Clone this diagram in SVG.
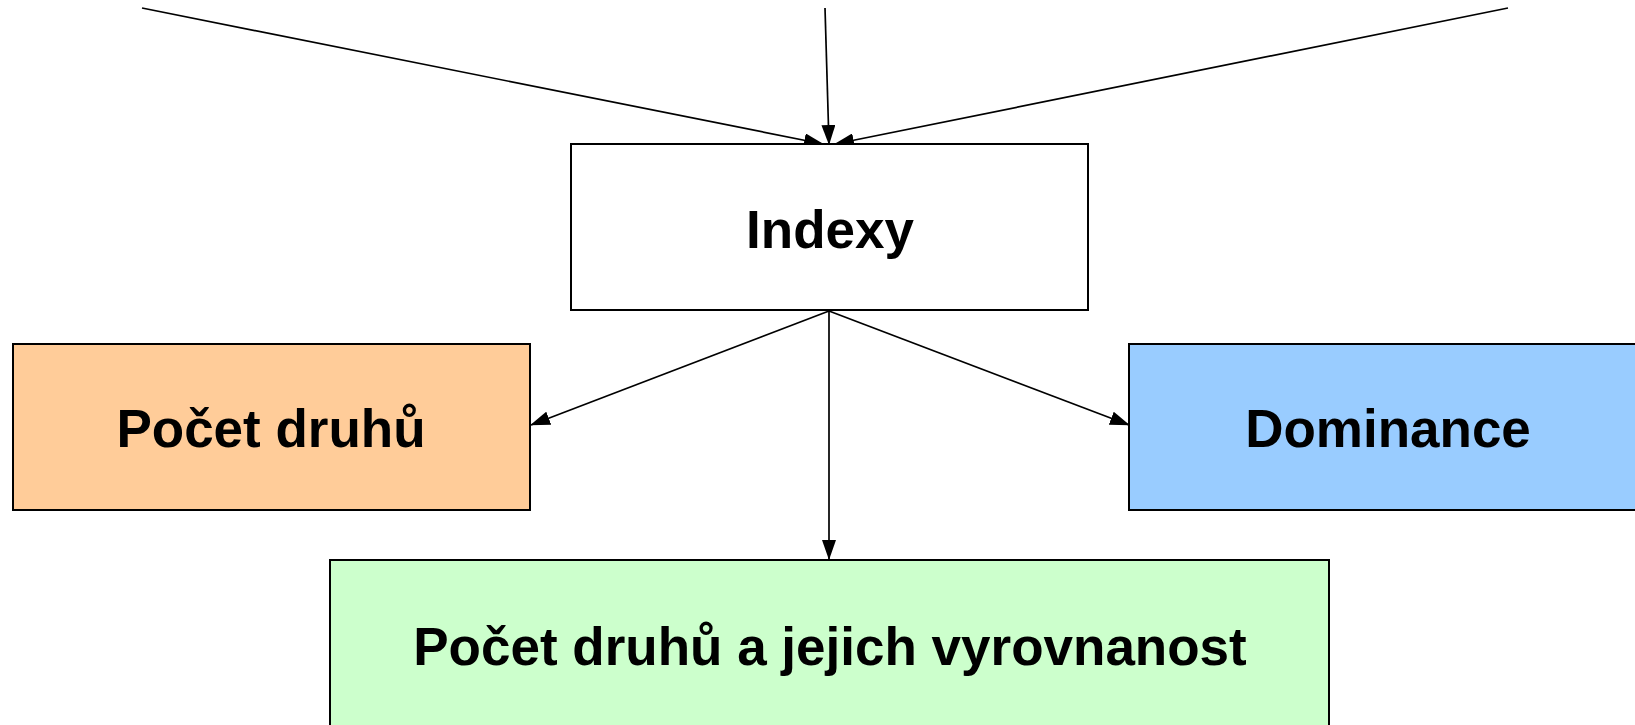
<svg xmlns="http://www.w3.org/2000/svg" width="1635" height="725" viewBox="0 0 1635 725">
<defs>
<marker id="ah" markerUnits="userSpaceOnUse" markerWidth="20" markerHeight="14" refX="19" refY="7" orient="auto">
<path d="M0,0 L20,7 L0,14 z" fill="#000"/>
</marker>
<style>
.box{stroke:#000;stroke-width:2}
.lbl{font-family:"Liberation Sans",Arial,sans-serif;font-weight:bold;font-size:53px;text-anchor:middle;fill:#000}
.con{stroke:#000;stroke-width:1.7;fill:none;marker-end:url(#ah)}
</style>
</defs>
<rect width="1635" height="725" fill="#fff"/>
<g id="connectors">
<line class="con" x1="142" y1="8" x2="823" y2="144"/>
<line class="con" x1="825" y1="8" x2="829" y2="144"/>
<line class="con" x1="1508" y1="8" x2="835" y2="144"/>
<line class="con" x1="829" y1="311" x2="531" y2="425"/>
<line class="con" x1="829" y1="311" x2="1129" y2="425"/>
<line class="con" x1="829" y1="311" x2="829" y2="559"/>
</g>
<g id="indexy">
<rect class="box" x="571" y="144" width="517" height="166" fill="#fff"/>
<text class="lbl" x="830" y="248">Indexy</text>
</g>
<g id="pocet-druhu">
<rect class="box" x="13" y="344" width="517" height="166" fill="#FFCC99"/>
<text class="lbl" x="271" y="447">Počet druhů</text>
</g>
<g id="dominance">
<rect class="box" x="1129" y="344" width="520" height="166" fill="#99CCFF"/>
<text class="lbl" x="1388" y="447">Dominance</text>
</g>
<g id="pocet-vyrovnanost">
<rect class="box" x="330" y="560" width="999" height="180" fill="#CCFFCC"/>
<text class="lbl" x="830" y="665">Počet druhů a jejich vyrovnanost</text>
</g>
</svg>
